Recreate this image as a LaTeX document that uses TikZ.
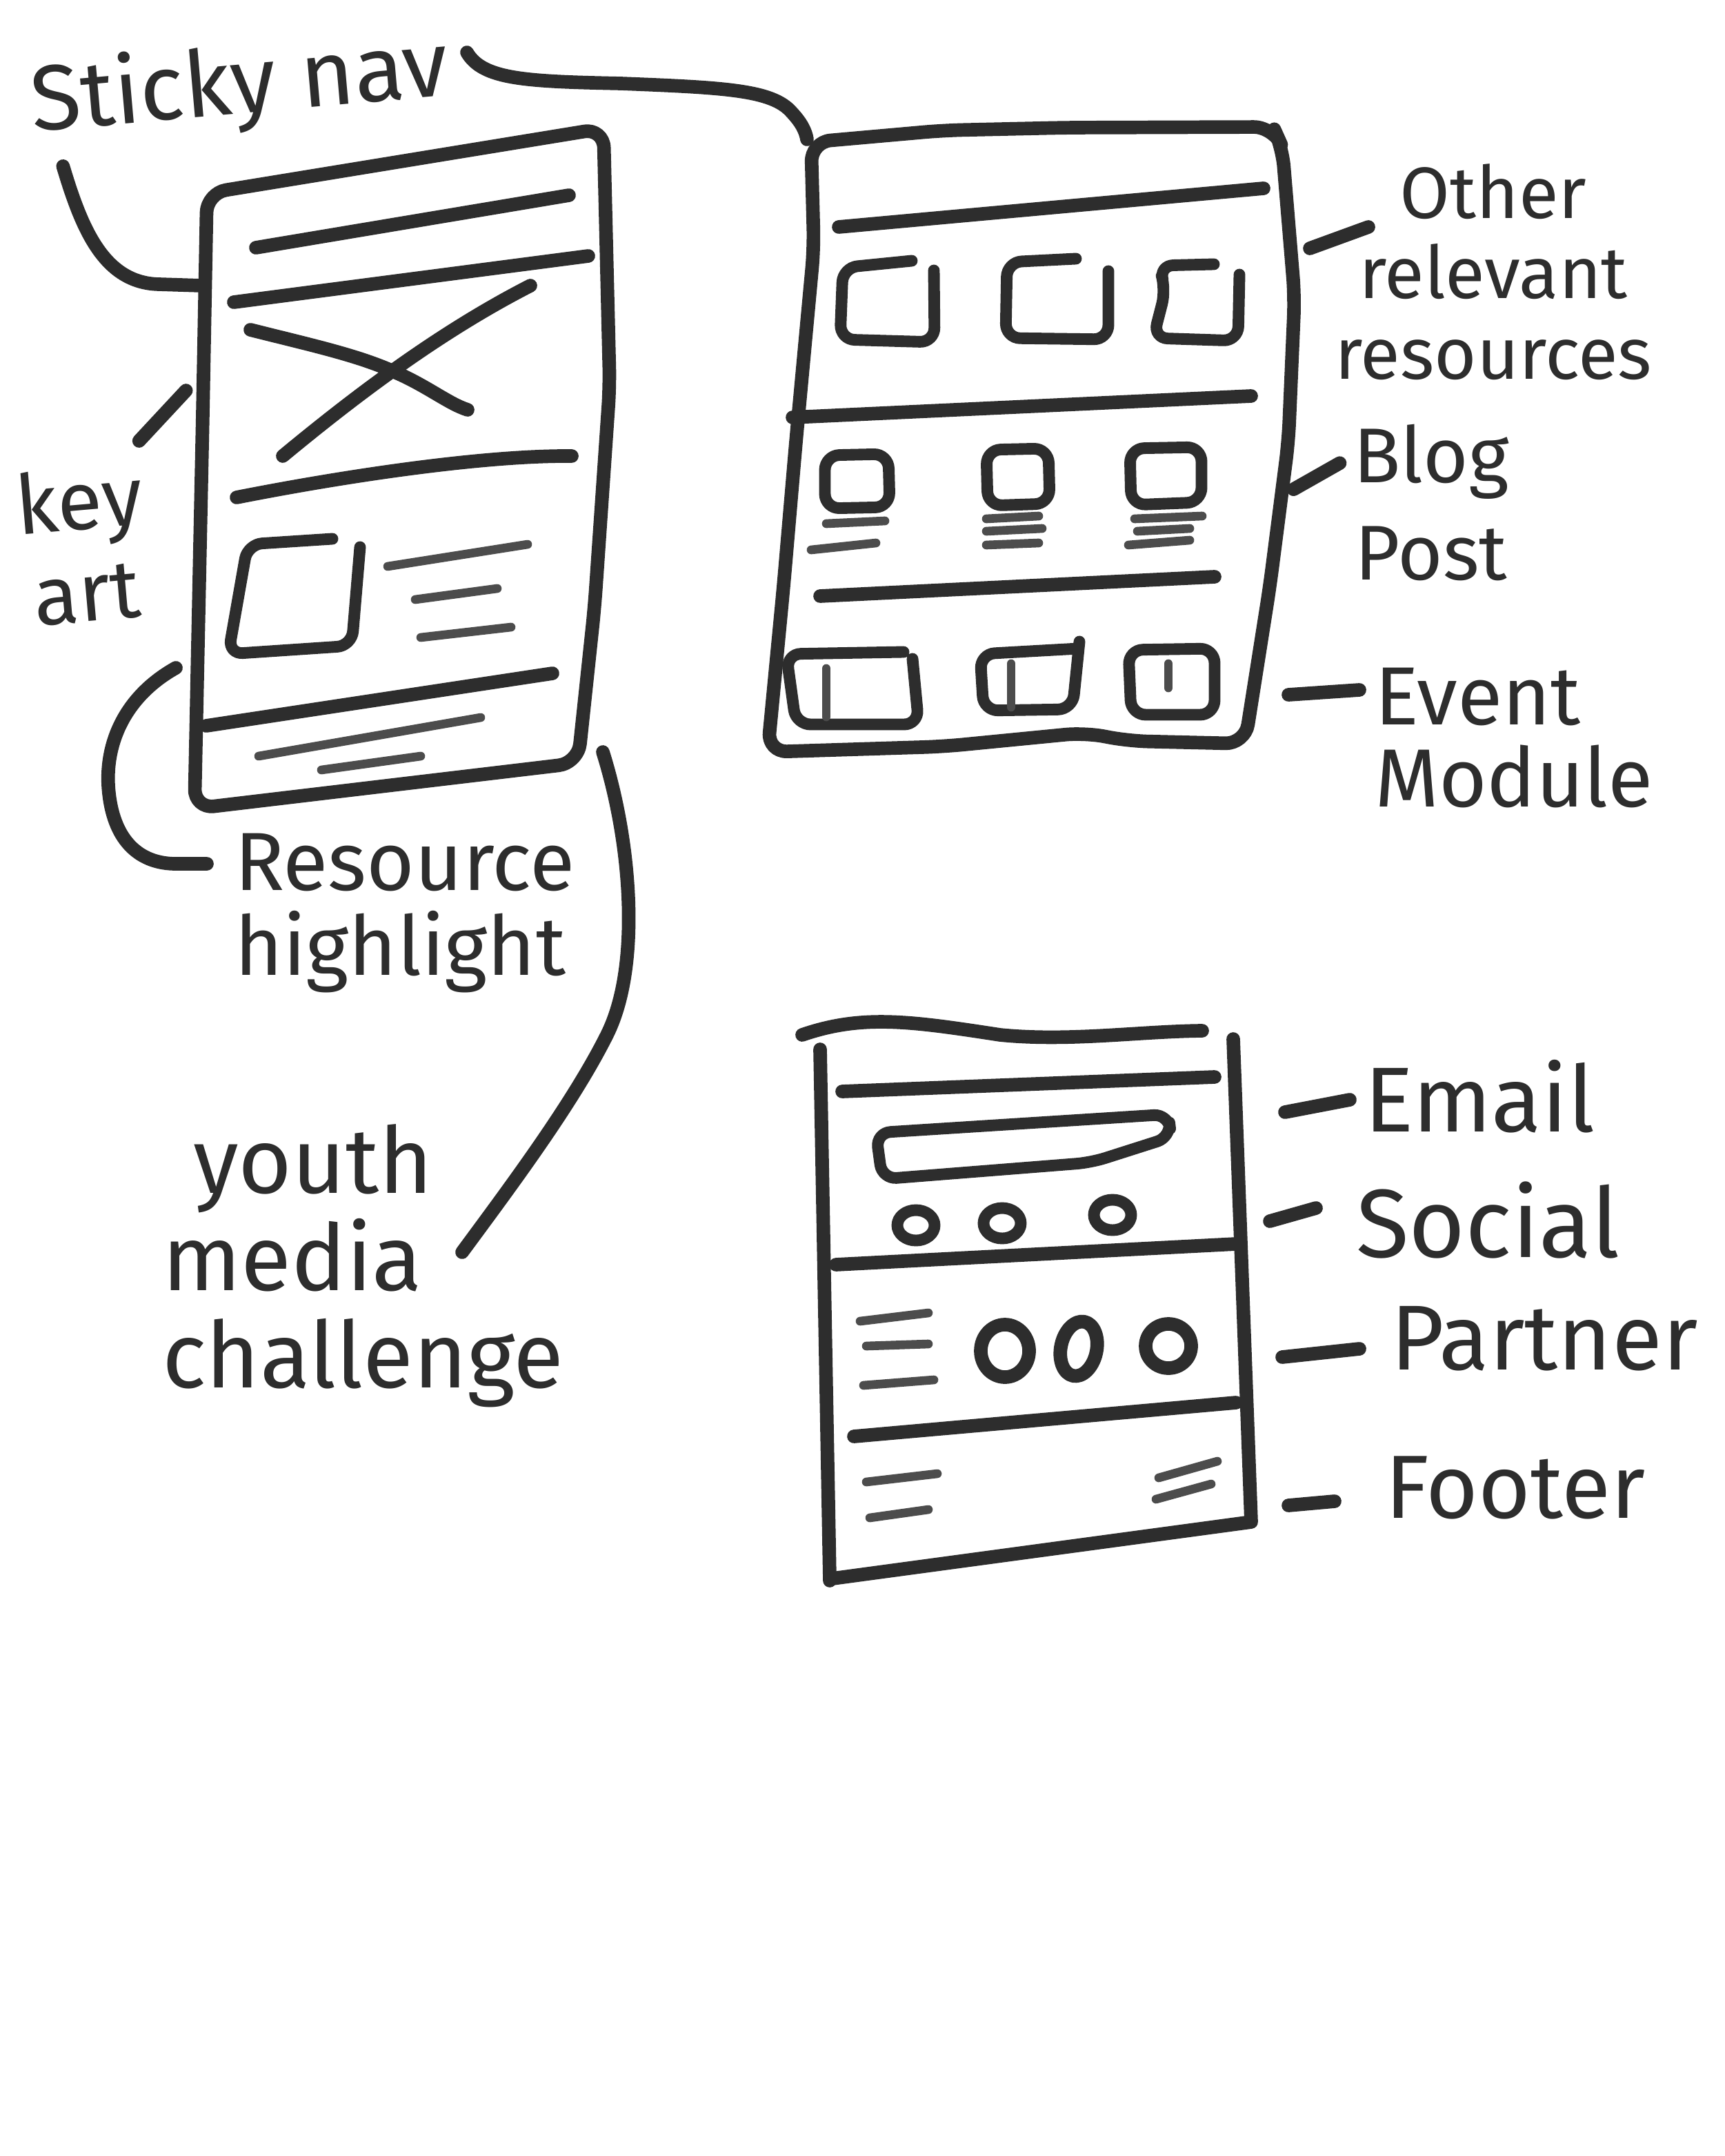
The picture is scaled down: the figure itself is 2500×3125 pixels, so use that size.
\documentclass[tikz,border=0pt]{standalone}
\usepackage{fontspec}
\setmainfont{Fira Sans}
\definecolor{ink}{HTML}{2D2D2D}
\newcommand{\handfont}[2]{\fontsize{#1}{#2}\selectfont}

\begin{document}
\begin{tikzpicture}[
    x=0.01cm, y=-0.01cm,
    pen/.style={draw=ink, line width=5.6pt, line cap=round, line join=round},
    softpen/.style={draw=ink!85, line width=3.6pt, line cap=round, line join=round},
    boxpen/.style={draw=ink, line width=4.8pt, line cap=round, line join=round, rounded corners=6pt},
    note/.style={text=ink, inner sep=0pt, outer sep=0pt}
  ]
  \fill[white] (0,0) rectangle (2500,3125);
  \useasboundingbox (0,0) rectangle (2500,3125);

  % labels
  \node[note, font=\handfont{38}{44}, rotate=5, anchor=east] (sticky) at (650,100) {Sticky nav};
  \node[note, font=\handfont{34}{38}, align=center, rotate=5] (keyart) at (120,790) {key\\art};
  \node[note, font=\handfont{34}{35}, align=left, anchor=north west] (reshl) at (340,1208) {Resource\\highlight};
  \node[note, font=\handfont{38}{40}, align=left, anchor=north west] (ymc) at (235,1630) {\hspace{0.45cm}youth\\media\\challenge};
  \node[note, font=\handfont{30}{33}, align=center, anchor=north west] (other) at (1935,238) {Other\\relevant\\resources};
  \node[note, font=\handfont{32}{40}, align=center, anchor=north] (blog) at (2075,615) {Blog\\Post};
  \node[note, font=\handfont{34}{34}, align=left, anchor=north west] (event) at (1993,968) {Event\\Module};
  \node[note, font=\handfont{38}{40}, anchor=base west] (email) at (1978,1640) {Email};
  \node[note, font=\handfont{40}{40}, anchor=base west] (social) at (1966,1822) {Social};
  \node[note, font=\handfont{38}{40}, anchor=base west] (partner) at (2016,1985) {Partner};
  \node[note, font=\handfont{37}{40}, anchor=base west] (footer) at (2008,2200) {Footer};

  % landing page
  \draw[pen, rounded corners=8pt] (294,600) -- (300,280) -- (875,186) -- (884,560) -- (862,880) -- (838,1106) -- (282,1172) -- cycle;
  \draw[pen] (371,359) -- (825,283);
  \draw[pen] (339,438) -- (853,371);
  \draw[pen] (363,478) .. controls (450,500) and (520,515) .. (574,540) .. controls (620,560) and (650,585) .. (678,594);
  \draw[pen] (769,414) .. controls (640,480) and (520,570) .. (410,661);
  \draw[pen] (343,721) .. controls (500,690) and (700,660) .. (829,661);
  \draw[boxpen] (482,781) -- (359,789) -- (331,948) -- (510,936) -- (522,793);
  \draw[softpen] (562,821) -- (765,789);
  \draw[softpen] (602,869) -- (721,853);
  \draw[softpen] (610,924) -- (741,909);
  \draw[pen] (299,1052) -- (801,976);
  \draw[softpen] (375,1096) -- (697,1040);
  \draw[softpen] (466,1116) -- (610,1096);

  \coordinate (p1nav) at (292,414);
  \coordinate (p1res) at (255,968);
  \coordinate (p1ymc) at (874,1090);
  \coordinate (p2nav) at (1170,202);

  % resources page
  \draw[pen, rounded corners=8pt] (1176,206) -- (1368,189) -- (1547,185) -- (1846,184) -- (1859,213) -- (1877,430) -- (1868,640) -- (1841,850) -- (1805,1078) -- (1636,1074) -- (1573,1062) -- (1368,1082) -- (1113,1090) -- (1136,850) -- (1154,640) -- (1180,360) -- cycle;
  \draw[pen] (1216,329) -- (1832,273);
  \draw[boxpen] (1322,378) -- (1222,388) -- (1218,492) -- (1355,496) -- (1354,392);
  \draw[boxpen] (1560,375) -- (1460,380) -- (1458,490) -- (1607,492) -- (1607,393);
  \draw[boxpen] (1760,383) -- (1680,385) -- (1690,420) -- (1672,490) -- (1795,494) -- (1797,398);
  \draw[pen] (1149,605) -- (1814,574);
  \draw[boxpen] (1196,660) -- (1288,658) -- (1290,735) -- (1196,737) -- cycle;
  \draw[boxpen] (1430,652) -- (1520,650) -- (1522,730) -- (1432,733) -- cycle;
  \draw[boxpen] (1638,650) -- (1742,648) -- (1742,728) -- (1640,732) -- cycle;
  \draw[softpen] (1198,759) -- (1283,755);
  \draw[softpen] (1176,797) -- (1270,787);
  \draw[softpen] (1430,752) -- (1506,748);
  \draw[softpen] (1430,770) -- (1511,766);
  \draw[softpen] (1430,790) -- (1506,787);
  \draw[softpen] (1645,752) -- (1743,748);
  \draw[softpen] (1649,770) -- (1725,766);
  \draw[softpen] (1636,790) -- (1725,783);
  \draw[pen] (1189,864) -- (1761,836);
  \draw[boxpen] (1310,945) -- (1140,948) -- (1154,1050) -- (1332,1050) -- (1323,955);
  \draw[boxpen] (1564,940) -- (1421,948) -- (1426,1030) -- (1555,1028) -- (1565,930);
  \draw[boxpen] (1636,942) -- (1761,940) -- (1761,1036) -- (1640,1036) -- cycle;
  \draw[softpen] (1198,969) -- (1198,1039);
  \draw[softpen] (1466,962) -- (1466,1025);
  \draw[softpen] (1694,962) -- (1694,997);

  % footer page
  \draw[pen] (1163,1500) .. controls (1250,1470) and (1320,1480) .. (1450,1500) .. controls (1550,1510) and (1650,1495) .. (1743,1494);
  \draw[pen] (1189,1521) -- (1203,2291);
  \draw[pen] (1788,1506) -- (1814,2206) -- (1207,2288);
  \draw[pen] (1221,1582) -- (1761,1561);
  \draw[boxpen] (1270,1642) -- (1694,1615) -- (1698,1648) -- (1582,1685) -- (1279,1709) -- cycle;
  \foreach \cx/\cy in {1328/1776, 1453/1773, 1613/1761}
    \draw[boxpen] (\cx,\cy) ellipse [x radius=0.27cm, y radius=0.22cm];
  \draw[pen] (1212,1833) -- (1792,1803);
  \draw[softpen] (1247,1915) -- (1346,1903);
  \draw[softpen] (1256,1951) -- (1346,1948);
  \draw[softpen] (1252,2008) -- (1354,2000);
  \draw[pen] (1457,1958) ellipse [x radius=0.35cm, y radius=0.38cm];
  \draw[pen, rotate around={-12:(1564,1955)}] (1564,1955) ellipse [x radius=0.26cm, y radius=0.4cm];
  \draw[pen] (1694,1951) ellipse [x radius=0.33cm, y radius=0.32cm];
  \draw[pen] (1238,2082) -- (1792,2033);
  \draw[softpen] (1256,2148) -- (1359,2136);
  \draw[softpen] (1261,2200) -- (1346,2188);
  \draw[softpen] (1680,2142) -- (1765,2118);
  \draw[softpen] (1676,2173) -- (1756,2151);

  % pointers
  \draw[pen] ([shift={(27,-24)}]sticky.east) .. controls (700,115) and (760,118) .. (900,121) .. controls (1050,127) and (1120,130) .. (1148,163) .. controls (1162,178) and (1168,190) .. (p2nav);
  \draw[pen] ([shift={(46,88)}]sticky.west) .. controls (118,330) and (150,410) .. (230,412) -- (p1nav);
  \draw[pen] ([shift={(0,-31)}]keyart.north east) -- ++(68,-73);
  \draw[pen] (p1res) .. controls (180,1010) and (150,1080) .. (158,1150) .. controls (166,1222) and (205,1252) .. (255,1252) -- ([shift={(-40,44)}]reshl.north west);
  \draw[pen] (p1ymc) .. controls (915,1220) and (930,1400) .. (880,1500) .. controls (830,1600) and (740,1720) .. ([shift={(435,185)}]ymc.north west);
  \draw[pen] ([shift={(49,91)}]other.north west) -- ++(-85,31);
  \draw[pen] ([shift={(-20,-57)}]blog.west) -- ++(-67,38);
  \draw[pen] ([shift={(-22,32)}]event.north west) -- ++(-103,7);
  \draw[pen] ([shift={(-21,-46)}]email.base west) -- ++(-94,18);
  \draw[pen] ([shift={(-58,-71)}]social.base west) -- ++(-67,19);
  \draw[pen] ([shift={(-45,-30)}]partner.base west) -- ++(-112,12);
  \draw[pen] ([shift={(-73,-24)}]footer.base west) -- ++(-67,6);
\end{tikzpicture}
\end{document}
